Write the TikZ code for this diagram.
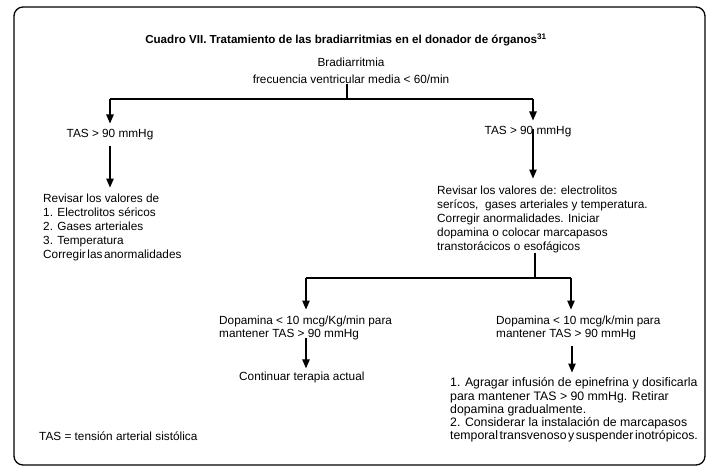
\documentclass[tikz,border=0pt]{standalone}
\usepackage{fontspec}
\setmainfont{Liberation Sans}
\usetikzlibrary{arrows.meta}
\newcommand{\tsp}{\hspace{1.6pt}}
\begin{document}
\begin{tikzpicture}[x=1pt,y=-1pt,
  txt/.style={inner sep=0pt, font=\fontsize{11.8}{14}\selectfont, align=left},
  arr/.style={line width=1.1pt, -{Triangle[length=9pt,width=7.5pt]}},
  ln/.style={line width=1.1pt}]
\useasboundingbox (0,0) rectangle (713,474);
\draw[line width=1.3pt, rounded corners=9pt] (14,7) rectangle (705,465);
\node[inner sep=0pt, font=\bfseries\fontsize{11.6}{13}\selectfont] (title) at (346,40)
  {Cuadro VII. Tratamiento de las bradiarritmias en el donador de órganos\textsuperscript{31}};
\node[txt, align=center, font=\fontsize{11.8}{17}\selectfont, anchor=north] (brad) at (351,58)
  {Bradiarritmia\\frecuencia ventricular media < 60/min};
\coordinate (j1) at (347,99);
\coordinate (jL) at (110,99);
\coordinate (jR) at (533,99);
\node[txt] (tasL) at (110,135) {TAS > 90 mmHg};
\node[txt] (tasR) at (528,132) {TAS > 90 mmHg};
\node[txt, anchor=north west] (revL) at (43,193.5)
  {Revisar los valores de\\1. Electrolitos séricos\\2. Gases arteriales\\3. Temperatura\\Corregir\tsp las\tsp anormalidades};
\node[txt, anchor=north west] (revR) at (437,185.5)
  {Revisar los valores de: electrolitos\\serícos,\ \ gases arteriales y temperatura.\\Corregir anormalidades. Iniciar\\dopamina o colocar marcapasos\\transtorácicos o esofágicos};
\coordinate (j2) at (535,278);
\coordinate (j2L) at (306,278);
\coordinate (j2R) at (571,278);
\node[txt, anchor=north west, font=\fontsize{11.8}{13}\selectfont] (dopL) at (219,315.5)
  {Dopamina < 10 mcg/Kg/min para\\mantener TAS > 90 mmHg};
\node[txt, anchor=north west, font=\fontsize{11.8}{13}\selectfont] (dopR) at (496,315.5)
  {Dopamina < 10 mcg/k/min para\\mantener TAS > 90 mmHg};
\node[txt, anchor=west] (cont) at (239,377) {Continuar terapia actual};
\node[txt, anchor=north west, font=\fontsize{12.3}{13.3}\selectfont] (fin) at (450,377.5)
  {1. Agragar infusión de epinefrina y dosificarla\\para mantener TAS > 90 mmHg. Retirar\\dopamina gradualmente.\\2. Considerar la instalación de marcapasos\\temporal\tsp transvenoso\tsp y\tsp suspender\tsp inotrópicos.};
\node[txt, anchor=west] (foot) at (39,436) {TAS = tensión arterial sistólica};
% connectors
\draw[ln] (brad.south -| j1) -- (j1);
\draw[ln] (jL) -- (jR);
\draw[arr] (jL) -- (jL |- tasL.north) [shorten >=6pt];
\draw[arr, shorten <=5pt, shorten >=6pt] (tasL.south) -- (tasL.south |- revL.north);
\draw[arr] (jR) -- (jR |- tasR.north) [shorten >=6pt];
\draw[arr, shorten <=3pt, shorten >=7pt] (jR |- tasR.north) -- (jR |- revR.north);
\draw[ln] (revR.south -| j2) -- (j2);
\draw[ln] (j2L) -- (j2R);
\draw[arr, shorten >=6pt] (j2L) -- (j2L |- dopL.north);
\draw[arr, shorten >=6pt] (j2R) -- (j2R |- dopR.north);
\draw[arr, shorten <=-2pt, shorten >=3pt] (j2L |- dopL.south) -- (j2L |- cont.north);
\draw[arr, shorten <=6pt, shorten >=5pt] (572,0 |- dopR.south) -- (572,0 |- fin.north);
\end{tikzpicture}
\end{document}
